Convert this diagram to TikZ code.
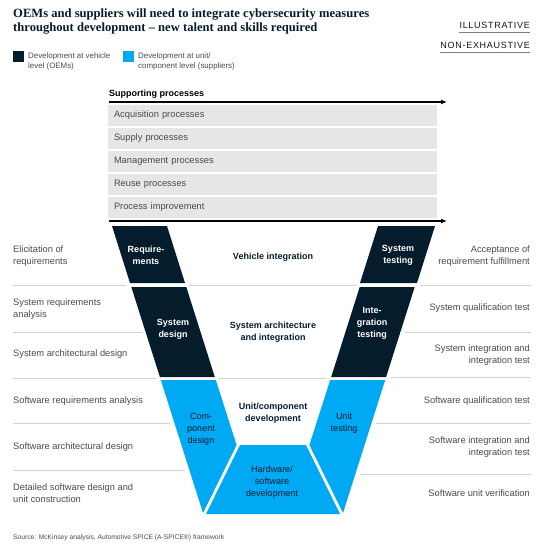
\documentclass[tikz,border=0pt]{standalone}
\usepackage{fontspec}
\setmainfont{Liberation Sans}
\newfontfamily\titlefont{Liberation Serif}
\newfontfamily\tagfont[LetterSpace=8]{Liberation Sans}
\usetikzlibrary{arrows.meta,positioning}
\definecolor{vnavy}{HTML}{051C2C}
\definecolor{vcyan}{HTML}{00A9F4}
\definecolor{procgray}{HTML}{E6E6E6}
\definecolor{rulegray}{HTML}{D2D2D2}
\definecolor{inkgray}{HTML}{4A4A4A}

\begin{document}
\begin{tikzpicture}[x=1pt,y=-1pt,font=\fontsize{9.3}{12}\selectfont,
    lside/.style={inkgray,inner sep=0pt,anchor=west,align=left},
    rside/.style={inkgray,inner sep=0pt,anchor=east,align=right},
    proc/.style={fill=procgray,text=inkgray,minimum height=21pt,inner xsep=6pt,
                 inner ysep=0pt,text width=317pt,align=left},
    dark/.style={fill=vnavy},
    lite/.style={fill=vcyan},
    onDark/.style={white,font=\fontsize{9}{12}\selectfont\bfseries,align=center,inner sep=0pt},
    onLite/.style={vnavy,font=\fontsize{9}{12}\selectfont,align=center,inner sep=0pt},
    phase/.style={vnavy,font=\fontsize{9}{12}\selectfont\bfseries,align=center,inner sep=0pt},
    rule/.style={rulegray,line width=1pt},
    flow/.style={-{Latex[length=6pt,width=5pt]},line width=1.4pt}]
  \useasboundingbox (0,0) rectangle (554,548);

  \node[anchor=west,inner sep=0pt,align=left,vnavy,font=\titlefont\fontsize{12.6}{14}\selectfont\bfseries]
       (title) at (13,21.5) {OEMs and suppliers will need to integrate cybersecurity measures\\
       throughout development \textendash\ new talent and skills required};
  \node[anchor=east,inner sep=0pt,text=vnavy!80!black,font=\tagfont\fontsize{9}{11}\selectfont] (ill) at (530,25) {ILLUSTRATIVE};
  \node[anchor=east,inner sep=0pt,text=vnavy!80!black,font=\tagfont\fontsize{9}{11}\selectfont] (nonex) at (530,45) {NON-EXHAUSTIVE};
  \draw[inkgray!70,line width=1.2pt] (ill.south west) ++(0,4) coordinate (u1) -- (ill.south east |- u1);
  \draw[inkgray!70,line width=1.2pt] (nonex.south west) ++(0,4) coordinate (u2) -- (nonex.south east |- u2);

  % legend
  \fill[vnavy] (13,51) rectangle (24,62);
  \fill[vcyan] (123,51) rectangle (134,62);
  \node[lside,font=\fontsize{7.9}{10.7}\selectfont] (legoem) at (28,61.5) {Development at vehicle\\level (OEMs)};
  \node[lside,font=\fontsize{7.9}{10.7}\selectfont] (legsup) at (138,61.5) {Development at unit/\\component level (suppliers)};

  % supporting processes
  \node[anchor=base west,inner sep=0pt,font=\fontsize{9}{12}\selectfont\bfseries] (supp) at (109,96.5) {Supporting processes};
  \coordinate (top1) at (109,102);  \coordinate (top2) at (447,102);
  \coordinate (bot1) at (109,221);  \coordinate (bot2) at (447,221);
  \foreach \n/\y/\t in {acq/115.5/Acquisition processes,sup/138.5/Supply processes,
                        man/161.5/Management processes,reu/184.5/Reuse processes,
                        imp/207.5/Process improvement}
    \node[proc] (\n) at (272.5,\y) {\t};
  \draw[flow] (top1) -- (top2);
  \draw[flow] (bot1) -- (bot2);

  % row rules
  \foreach \y/\a/\b in {285/13/127,332/13/142,378/13/156,423/13/170,470/13/185,
                        285/189/356,378/218/327,
                        285/420/531,332/405/531,377/391/531,423/376/531,474/360/531}
    \draw[rule] (\a,\y) -- (\b,\y);

  % the V
  \fill[dark] (112,226) -- (167,226) -- (185,283) -- (130,283) -- cycle;
  \fill[dark] (435,226) -- (378,226) -- (360,283) -- (417,283) -- cycle;
  \fill[dark] (131.3,287) -- (186.3,287) -- (214.8,377) -- (159.9,377) -- cycle;
  \fill[dark] (414.7,287) -- (359.7,287) -- (331.2,377) -- (386.1,377) -- cycle;
  \fill[lite] (160.8,380) -- (215.8,380) -- (236.6,445) -- (203,513) -- cycle;
  \fill[lite] (385.2,380) -- (330.2,380) -- (309.4,445) -- (343,513) -- cycle;
  \fill[lite] (240,445) -- (306,445) -- (340,514) -- (206,514) -- cycle;

  \node[onDark] (req) at (146,255.5) {Require-\\ments};
  \node[onDark] (systest) at (398,255.5) {System\\testing};
  \node[onDark] (sysdes) at (173,329) {System\\design};
  \node[onDark] (inttest) at (372,323) {Inte-\\gration\\testing};
  \node[onLite] (comp) at (201,429) {Com-\\ponent\\design};
  \node[onLite] (unittest) at (344,423) {Unit\\testing};
  \node[onLite] (hwsw) at (272,482) {Hardware/\\software\\development};
  \node[phase] (vehint) at (273,257) {Vehicle integration};
  \node[phase] (sysarch) at (273,332) {System architecture\\and integration};
  \node[phase] (unitdev) at (273,413) {Unit/component\\development};

  % left and right activities
  \node[lside] (elic) at (13,256) {Elicitation of\\requirements};
  \node[lside] (sysreq) at (13,309) {System requirements\\analysis};
  \node[lside] (sysarc) at (13,354) {System architectural design};
  \node[lside] (swreq) at (13,401) {Software requirements analysis};
  \node[lside] (swarc) at (13,447) {Software architectural design};
  \node[lside] (swdet) at (13,493.5) {Detailed software design and\\unit construction};
  \node[rside] (accept) at (530,256) {Acceptance of\\requirement fulfillment};
  \node[rside] (sysqual) at (530,308) {System qualification test};
  \node[rside] (sysint) at (530,355) {System integration and\\integration test};
  \node[rside] (swqual) at (530,401) {Software qualification test};
  \node[rside] (swint) at (530,447) {Software integration and\\integration test};
  \node[rside] (swunit) at (530,493) {Software unit verification};

  \node[lside,font=\fontsize{6.7}{8}\selectfont] (src) at (13,538)
       {Source: McKinsey analysis, Automotive SPICE (A-SPICE\textregistered) framework};
\end{tikzpicture}
\end{document}
